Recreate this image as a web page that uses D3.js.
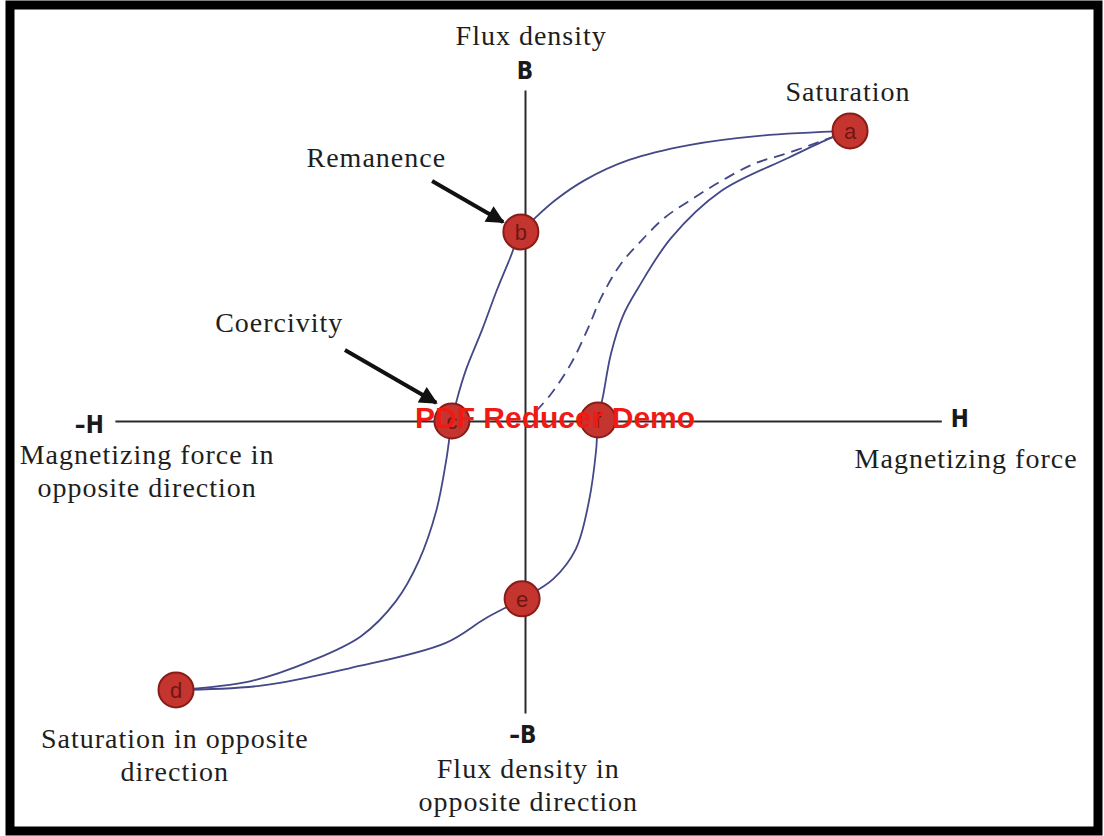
<!DOCTYPE html>
<html>
<head>
<meta charset="utf-8">
<script src="https://cdn.jsdelivr.net/npm/d3@7"></script>
<style>
  html, body { margin: 0; padding: 0; background: #fff; }
  svg { display: block; }
</style>
</head>
<body>
<div id="chart"></div>
<script>
// ---- data (H = magnetizing force, B = flux density, arbitrary units) ----
const upperBranch = [
  [78.7, 87.9], [56.7, 86.4], [39.7, 83.6], [25.2, 79.1], [14.5, 73.0],
  [7.3, 66.9], [2.4, 61.5], [-1.0, 57.3], [-3.6, 49.4], [-6.8, 39.7],
  [-10.4, 27.6], [-14.3, 15.5], [-16.5, 6.4], [-17.7, 0.0], [-19.1, -12.1],
  [-21.5, -27.3], [-25.7, -42.4], [-31.2, -54.5], [-39.7, -65.2],
  [-51.8, -72.7], [-66.3, -78.8], [-84.5, -81.5]
];
const lowerBranch = [
  [-84.5, -81.5], [-63.9, -80.2], [-42.1, -74.8], [-19.3, -67.3], [-9.4, -59.7],
  [-0.7, -53.9], [6.8, -47.9], [12.3, -38.8], [15.5, -24.2], [17.2, -9.1],
  [17.7, 0.3], [18.9, 7.6], [20.8, 20.3], [23.7, 31.8], [27.4, 40.3],
  [35.4, 55.5], [47.5, 69.7], [63.7, 79.7], [74.1, 85.8], [78.7, 87.9]
];
const initialCurve = [
  [2.7, 3.0], [6.3, 8.2], [11.1, 17.3], [15.3, 28.2], [18.4, 37.3],
  [23.2, 47.6], [27.4, 53.6], [33.7, 61.5], [40.9, 67.6], [47.5, 72.7],
  [55.4, 77.9], [63.7, 81.2], [71.7, 84.8], [78.7, 87.9]
];
const pointNames = ["a", "b", "c", "f", "e", "d"];
const pointH = [78.7, -1.0, -17.7, 17.7, -0.7, -84.5];
const pointB = [87.9, 57.3, 0.0, 0.3, -53.9, -81.5];

const hAxisExtent = [-99.3, 100.8];
const bAxisExtent = [-88.5, 100.3];

const arrows = [
  { from: [-22.5, 72.7], to: [-5.3, 60.3] },   // Remanence
  { from: [-43.6, 21.5], to: [-21.5, 5.5] }    // Coercivity
];

// text annotations: lines, anchor (H, B)
const labels = [
  { lines: ["Flux density"], at: [1.5, 114.0] },
  { lines: ["Saturation"], at: [78.2, 97.0] },
  { lines: ["Remanence"], at: [-36.0, 77.0] },
  { lines: ["Coercivity"], at: [-59.5, 27.0] },
  { lines: ["Magnetizing force in", "opposite direction"], at: [-91.5, -13.0] },
  { lines: ["Magnetizing force"], at: [106.8, -14.2] },
  { lines: ["Saturation in opposite", "direction"], at: [-84.8, -99.1] },
  { lines: ["Flux density in", "opposite direction"], at: [0.8, -108.2] }
];
const axisLetters = [
  { text: "B", at: [0, 103.5] },
  { text: "\u2013H", at: [-105.5, -3.6] },
  { text: "H", at: [105.3, -1.8] },
  { text: "\u2013B", at: [-0.5, -97.6] }
];
const watermark = "PDF Reducer Demo";

// ---- layout ----
const W = 1104, H = 836;
const svg = d3.select("#chart").append("svg")
  .attr("width", W).attr("height", H);

const x = d3.scaleLinear().domain([-100, 100]).range([112, 938]);
const y = d3.scaleLinear().domain([-100, 100]).range([751, 91]);

// frame
svg.append("rect")
  .attr("x", 10).attr("y", 5)
  .attr("width", 1088).attr("height", 826)
  .attr("fill", "none")
  .attr("stroke", "#000")
  .attr("stroke-width", 9);

// axes (no ticks)
const hScale = x.copy().domain(hAxisExtent).range(hAxisExtent.map(x));
const bScale = y.copy().domain(bAxisExtent).range(bAxisExtent.map(y));

svg.append("g")
  .attr("transform", `translate(0,${y(0)})`)
  .call(d3.axisBottom(hScale).tickValues([]).tickSizeOuter(0));
svg.append("g")
  .attr("transform", `translate(${x(0)},0)`)
  .call(d3.axisLeft(bScale).tickValues([]).tickSizeOuter(0));
svg.selectAll(".domain")
  .attr("stroke", "#2b2b2b")
  .attr("stroke-width", 2);

// curves
const line = d3.line()
  .x(d => x(d[0]))
  .y(d => y(d[1]))
  .curve(d3.curveCatmullRom.alpha(0.5));

const curveColor = "#434886";
[upperBranch, lowerBranch].forEach(c => {
  svg.append("path")
    .attr("d", line(c))
    .attr("fill", "none")
    .attr("stroke", curveColor)
    .attr("stroke-width", 1.8);
});
svg.append("path")
  .attr("d", line(initialCurve))
  .attr("fill", "none")
  .attr("stroke", curveColor)
  .attr("stroke-width", 1.8)
  .attr("stroke-dasharray", "11,7");

// arrows
svg.append("defs").append("marker")
  .attr("id", "head")
  .attr("viewBox", "0 0 10 10")
  .attr("refX", 9).attr("refY", 5)
  .attr("markerWidth", 6.5).attr("markerHeight", 4.5)
  .attr("markerUnits", "strokeWidth")
  .attr("orient", "auto")
  .append("path")
  .attr("d", "M0,0L10,5L0,10Z")
  .attr("fill", "#111");

svg.selectAll("line.arrow")
  .data(arrows)
  .enter()
  .append("line")
  .attr("class", "arrow")
  .attr("x1", d => x(d.from[0])).attr("y1", d => y(d.from[1]))
  .attr("x2", d => x(d.to[0])).attr("y2", d => y(d.to[1]))
  .attr("stroke", "#111")
  .attr("stroke-width", 4)
  .attr("marker-end", "url(#head)");

// points
const pts = svg.selectAll("g.pt")
  .data(pointNames.map((n, i) => ({ n, h: pointH[i], b: pointB[i] })))
  .enter()
  .append("g")
  .attr("class", "pt")
  .attr("transform", d => `translate(${x(d.h)},${y(d.b)})`);
pts.append("circle")
  .attr("r", 17.5)
  .attr("fill", "#c5352f")
  .attr("stroke", "#8a1c18")
  .attr("stroke-width", 2);
pts.append("text")
  .attr("text-anchor", "middle")
  .attr("dy", "0.35em")
  .attr("font-family", "'Liberation Sans', Arial, sans-serif")
  .attr("font-size", 22)
  .attr("fill", "#6e1713")
  .text(d => d.n);

// labels
labels.forEach(l => {
  const t = svg.append("text")
    .attr("x", x(l.at[0]))
    .attr("y", y(l.at[1]))
    .attr("text-anchor", "middle")
    .attr("font-family", "'Liberation Serif', 'Times New Roman', serif")
    .attr("font-size", 28)
    .attr("letter-spacing", 1)
    .attr("fill", "#1e1e1e");
  l.lines.forEach((s, i) => {
    t.append("tspan")
      .attr("x", x(l.at[0]))
      .attr("dy", i === 0 ? 0 : 33)
      .text(s);
  });
});

svg.selectAll("text.axl")
  .data(axisLetters)
  .enter()
  .append("text")
  .attr("class", "axl")
  .attr("x", d => x(d.at[0]))
  .attr("y", d => y(d.at[1]))
  .attr("text-anchor", "middle")
  .attr("font-family", "'Liberation Sans Narrow', 'DejaVu Sans Condensed', 'Liberation Sans', sans-serif")
  .attr("font-weight", "bold")
  .attr("font-size", 24)
  .attr("fill", "#1a1a1a")
  .text(d => d.text);

// watermark
svg.append("text")
  .attr("x", 415)
  .attr("y", 428)
  .attr("font-family", "'Liberation Sans', Arial, sans-serif")
  .attr("font-weight", "bold")
  .attr("font-size", 30)
  .attr("fill", "#f01a14")
  .text(watermark);
</script>
</body>
</html>
